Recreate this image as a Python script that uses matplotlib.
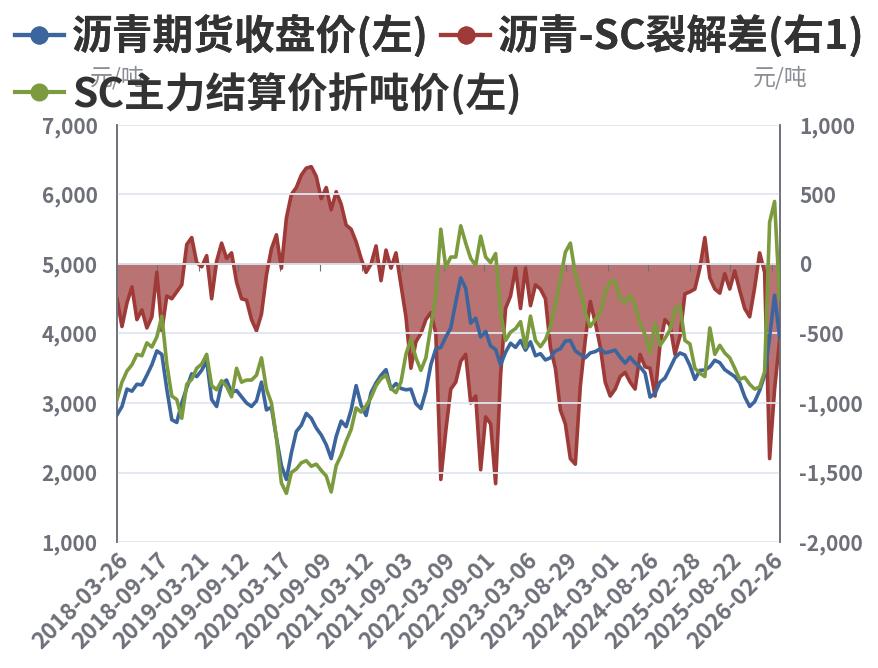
import matplotlib
matplotlib.use("Agg")
import matplotlib.pyplot as plt
import matplotlib.ticker as mticker
from matplotlib.lines import Line2D
import pandas as pd
import numpy as np

plt.rcParams['font.family'] = ['Noto Sans CJK SC', 'DejaVu Sans']

# ---------------- data ----------------
dates = pd.date_range('2018-03-26', periods=134, freq='22D')

tick_labels = ['2018-03-26', '2018-09-17', '2019-03-21', '2019-09-12', '2020-03-17',
               '2020-09-09', '2021-03-12', '2021-09-03', '2022-03-09', '2022-09-01',
               '2023-03-06', '2023-08-29', '2024-03-01', '2024-08-26', '2025-02-28',
               '2025-08-22', '2026-02-26']

# 沥青期货收盘价 (left axis)
asphalt = [2830, 2950, 3200, 3170, 3270, 3260, 3400, 3550, 3750, 3700,
           3200, 2760, 2720, 3000, 3220, 3420, 3380, 3470, 3610, 3050,
           2950, 3280, 3330, 3150, 3180, 3090, 3000, 2950, 3030, 3300,
           2900, 2940, 2500, 2100, 1900, 2280, 2590, 2680, 2850, 2780,
           2640, 2540, 2400, 2200, 2520, 2740, 2660, 2900, 3250, 2970,
           2820, 3150, 3290, 3400, 3480, 3200, 3280, 3210, 3190, 3200,
           2990, 2920, 3170, 3550, 3780, 3800, 3950, 4080, 4450, 4800,
           4650, 4150, 4220, 3950, 4030, 3820, 3770, 3550, 3730, 3860,
           3800, 3900, 3760, 3880, 3680, 3710, 3620, 3650, 3750, 3780,
           3890, 3900, 3750, 3700, 3650, 3720, 3740, 3780, 3720, 3740,
           3760, 3660, 3575, 3660, 3575, 3520, 3430, 3085, 3140, 3300,
           3360, 3500, 3650, 3720, 3690, 3540, 3340, 3470, 3475, 3520,
           3615, 3580, 3480, 3430, 3380, 3290, 3090, 2950, 3020, 3180,
           3400, 3950, 4550, 3950]

# 沥青-SC裂解差 (right axis)
crack = [-250, -450, -280, -165, -400, -330, -460, -380, -60, -480,
         -230, -250, -200, -150, 140, 190, 10, -20, 60, -250,
         20, 150, 40, 80, -130, -250, -260, -400, -480, -360,
         -80, 110, 210, -30, 330, 500, 550, 640, 690, 700,
         630, 470, 550, 390, 520, 430, 280, 250, 160, 40,
         -60, 0, 130, -120, 100, -30, 80, -150, -380, -750,
         -560, -500, -400, -350, -500, -1550, -1200, -900, -850, -700,
         -650, -1000, -950, -1480, -1100, -1150, -1580, -800, -320, -230,
         -30, -320, -30, -300, -150, -180, -250, -600, -750, -1050,
         -1150, -1400, -1440, -880, -545, -270, -420, -595, -850, -950,
         -900, -810, -780, -850, -900, -650, -740, -750, -950, -580,
         -400, -440, -650, -520, -215, -200, -180, -30, 190, -100,
         -180, -210, -70, -180, -50, -190, -320, -380, -170, 80,
         -60, -1400, -900, -550]

# SC主力结算价折吨价 (left axis)
sc_crude = [3050, 3300, 3460, 3550, 3700, 3680, 3865, 3805, 3950, 4250,
            3560, 3100, 3050, 2780, 3270, 3340, 3500, 3560, 3700, 3250,
            3190, 3320, 3240, 3090, 3500, 3300, 3330, 3330, 3400, 3650,
            3200, 3000, 2500, 1850, 1700, 2000, 2050, 2140, 2170, 2090,
            2120, 2030, 1950, 1720, 2100, 2250, 2450, 2620, 2930, 2870,
            2960, 3080, 3250, 3350, 3400, 3210, 3150, 3300, 3700, 3920,
            3650, 3470, 3650, 4100, 4550, 5500, 4950, 5100, 5100, 5550,
            5300, 5080, 4980, 5400, 5100, 5020, 5150, 4300, 3900, 4020,
            4070, 4170, 3800, 4250, 3900, 3810, 3910, 4100, 4400, 4780,
            5170, 5300, 4860, 4610, 4300, 4100, 4200, 4300, 4580, 4750,
            4750, 4500, 4450, 4550, 4400, 4150, 3980, 3720, 4150, 3830,
            3930, 4050, 4350, 4400, 3900, 3850, 3500, 3430, 3380, 4080,
            3700, 3830, 3720, 3650, 3500, 3340, 3370, 3270, 3200, 3230,
            3450, 5600, 5900, 4500]

labels = ['沥青期货收盘价(左)', '沥青-SC裂解差(右1)', 'SC主力结算价折吨价(左)']
colors = ['#3b659c', '#9e3a38', '#7b9b3e']
fill_color = '#b97372'
unit = '元/吨'

# ---------------- figure ----------------
fig = plt.figure(figsize=(8.79, 6.68), dpi=100)
ax1 = fig.add_axes([0.1331, 0.1886, 0.7543, 0.6243])
ax2 = ax1.twinx()
ax1.set_zorder(2)
ax2.set_zorder(1)
ax1.patch.set_visible(False)

grey = '#6e7079'

# right axis: crack spread with fill
ax2.fill_between(dates, crack, 0, color=fill_color, linewidth=0, zorder=1)
ax2.plot(dates, crack, color=colors[1], lw=2.6, zorder=2, solid_joinstyle='round')
# left axis lines
ax1.plot(dates, asphalt, color=colors[0], lw=2.6, zorder=3, solid_joinstyle='round')
ax1.plot(dates, sc_crude, color=colors[2], lw=2.6, zorder=4, solid_joinstyle='round')

ax1.set_ylim(1000, 7000)
ax2.set_ylim(-2000, 1000)
ax1.set_yticks(np.arange(1000, 7001, 1000))
ax2.set_yticks(np.arange(-2000, 1001, 500))
fmt = mticker.FuncFormatter(lambda v, p: f'{int(v):,}')
ax1.yaxis.set_major_formatter(fmt)
ax2.yaxis.set_major_formatter(fmt)

tick_dates = pd.to_datetime(tick_labels)
ax1.set_xlim(pd.Timestamp('2018-03-26'), pd.Timestamp('2026-04-01'))
ax1.set_xticks(tick_dates)
ax1.set_xticklabels(tick_labels, rotation=45, ha='right', rotation_mode='anchor')

ax1.grid(axis='y', color='#e0e6f1', lw=1.3, zorder=0)
ax1.set_axisbelow(True)

for ax in (ax1, ax2):
    for s in ('top', 'bottom'):
        ax.spines[s].set_visible(False)
    ax.spines['left'].set_color(grey)
    ax.spines['right'].set_color(grey)
    ax.spines['left'].set_linewidth(1.2)
    ax.spines['right'].set_linewidth(1.2)

ax1.tick_params(axis='y', length=0, labelsize=15, labelcolor=grey, pad=14)
ax2.tick_params(axis='y', length=0, labelsize=15, labelcolor=grey, pad=14)
ax1.tick_params(axis='x', length=0, labelsize=16.5, labelcolor=grey, pad=5)
for t in ax1.get_yticklabels() + ax2.get_yticklabels() + ax1.get_xticklabels():
    t.set_fontweight('bold')

# category axis line at zero of right axis, with ticks
ax2.xaxis.set_visible(True)
ax2.spines['bottom'].set_visible(True)
ax2.spines['bottom'].set_position(('data', 0))
ax2.spines['bottom'].set_color('#7a6a6a')
ax2.spines['bottom'].set_linewidth(1.2)
ax2.tick_params(axis='x', which='both', bottom=True, labelbottom=False, top=False,
                length=5, color=grey, direction='out')

# unit labels (centred on each axis line)
ax1.text(0.0, 1.084, unit, transform=ax1.transAxes, ha='center', va='bottom',
         fontsize=16.5, color='#8a8d96', zorder=0)
ax2.text(1.0, 1.084, unit, transform=ax2.transAxes, ha='center', va='bottom',
         fontsize=16.5, color='#8a8d96')

# legends
handles = [Line2D([0], [0], color=c, lw=3, marker='o', markersize=12,
                  markerfacecolor=c, markeredgecolor=c) for c in colors]
leg_kw = dict(frameon=False, handlelength=1.2, handletextpad=0.2,
              prop={'size': 29.3, 'weight': 'bold'}, labelcolor='#333333',
              borderaxespad=0, borderpad=0)
leg1 = fig.legend(handles[:2], labels[:2], ncol=2, loc='center left',
                  bbox_to_anchor=(0.017, 0.945), columnspacing=0.3, **leg_kw)
fig.add_artist(leg1)
leg2 = fig.legend(handles[2:], labels[2:], loc='center left',
                  bbox_to_anchor=(0.017, 0.859), **leg_kw)

fig.savefig('out.png', dpi=100)
